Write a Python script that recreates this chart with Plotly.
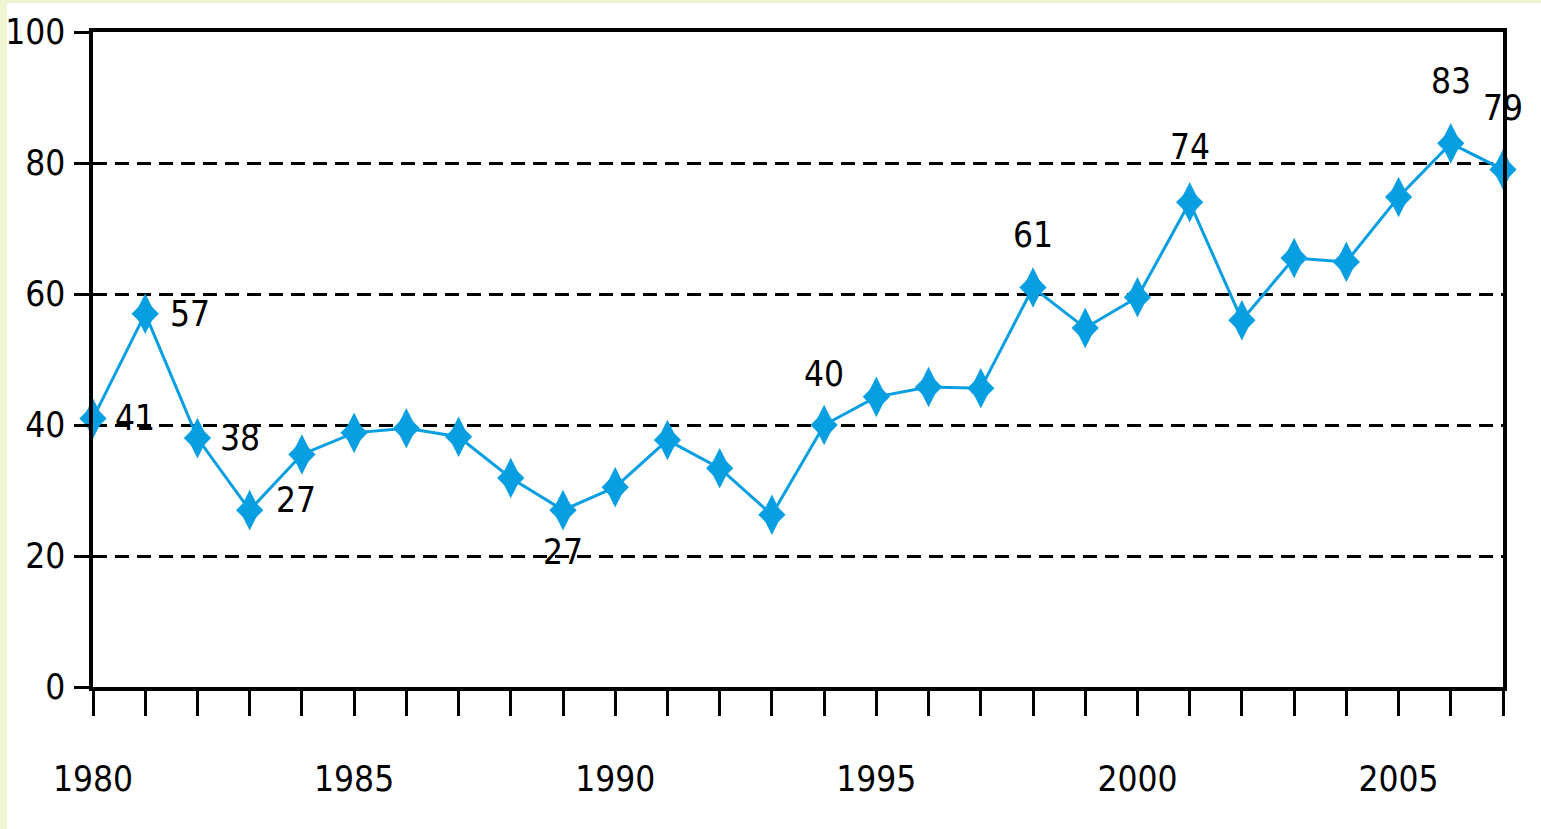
import plotly.graph_objects as go

# ---------------- data ----------------
years = list(range(1980, 2008))
values = [41, 57, 38, 27, 35.5, 38.8, 39.5, 38.2, 31.9, 27, 30.5, 37.7, 33.4, 26.3,
          40, 44.3, 45.8, 45.6, 61, 54.8, 59.5, 74, 56, 65.5, 64.9, 74.8, 83, 79]
label_years = [1980, 1981, 1982, 1983, 1989, 1994, 1998, 2001, 2006, 2007]
label_texts = ["41", "57", "38", "27", "27", "40", "61", "74", "83", "79"]
y_ticks = [0, 20, 40, 60, 80, 100]
x_tick_labels = [str(y) if y % 5 == 0 else "" for y in years]

# ---------------- style ----------------
FONT = "DejaVu Sans Condensed, Liberation Sans Narrow, Liberation Sans, sans-serif"
FS = 35
BLUE = "#079FE2"
# label placement: (xanchor, yanchor, xshift, yshift)
label_style = {
    1980: ("left", "middle", 20, 0),
    1981: ("left", "middle", 23, 0),
    1982: ("left", "middle", 21, 0),
    1983: ("left", "middle", 24, 10),
    1989: ("center", "top", 0, -20),
    1994: ("center", "bottom", 0, 29),
    1998: ("center", "bottom", 0, 30),
    2001: ("center", "bottom", 0, 33),
    2006: ("center", "bottom", 0, 40),
    2007: ("center", "bottom", 0, 40),
}

fig = go.Figure()
fig.add_trace(go.Scatter(
    x=years, y=values, mode="lines+markers",
    line=dict(color=BLUE, width=3),
    marker=dict(symbol="diamond", size=21, color=BLUE, line=dict(width=0)),
    cliponaxis=False, hoverinfo="x+y",
))
fig.add_trace(go.Scatter(
    x=years, y=values, mode="markers",
    marker=dict(symbol="diamond-tall", size=29, color=BLUE, line=dict(width=0)),
    cliponaxis=False, hoverinfo="skip",
))

annotations = []
val_by_year = dict(zip(years, values))
for yr, txt in zip(label_years, label_texts):
    xa, ya, xs, ys = label_style[yr]
    annotations.append(dict(
        x=yr, y=val_by_year[yr], text=txt, showarrow=False,
        xanchor=xa, yanchor=ya, xshift=xs, yshift=ys,
        font=dict(family=FONT, size=FS, color="black"),
    ))

# pixel -> paper helpers for decorative border strips
L, R, T, B = 93, 1503, 32, 687
def px(xp):
    return (xp - L) / (R - L)
def py(yp):
    return (B - yp) / (B - T)

STRIP = "#EFF5D1"
shapes = [
    dict(type="rect", xref="paper", yref="paper", x0=px(0), x1=px(7), y0=py(829), y1=py(0),
         fillcolor=STRIP, line=dict(width=0), layer="below"),
    dict(type="rect", xref="paper", yref="paper", x0=px(0), x1=px(1541), y0=py(3), y1=py(0),
         fillcolor=STRIP, line=dict(width=0), layer="below"),
]

fig.update_layout(
    template="none",
    width=1541, height=829,
    margin=dict(l=L, r=1541 - R, t=T, b=829 - B, pad=0, autoexpand=False),
    paper_bgcolor="white", plot_bgcolor="white",
    showlegend=False,
    annotations=annotations, shapes=shapes,
    font=dict(family=FONT, size=FS, color="black"),
    xaxis=dict(
        range=[1980, 2007], tickmode="array", tickvals=years, ticktext=x_tick_labels,
        ticks="outside", ticklen=25, tickwidth=3, tickcolor="black",
        showline=True, linecolor="black", linewidth=3.5, mirror=True,
        showgrid=False, zeroline=False, ticklabelstandoff=33, automargin=False,
        tickfont=dict(family=FONT, size=FS, color="black"),
    ),
    yaxis=dict(
        range=[0, 100], tickmode="array", tickvals=y_ticks,
        ticks="outside", ticklen=15, tickwidth=3, tickcolor="black",
        showline=True, linecolor="black", linewidth=3.5, mirror=True,
        showgrid=True, gridcolor="black", gridwidth=3, griddash="14px,8px",
        zeroline=False, ticklabelstandoff=2, automargin=False,
        tickfont=dict(family=FONT, size=FS, color="black"),
    ),
)

fig.write_html("out.html", config={"displayModeBar": False},
               post_script="document.body.style.margin='0';document.body.style.overflow='hidden';")
